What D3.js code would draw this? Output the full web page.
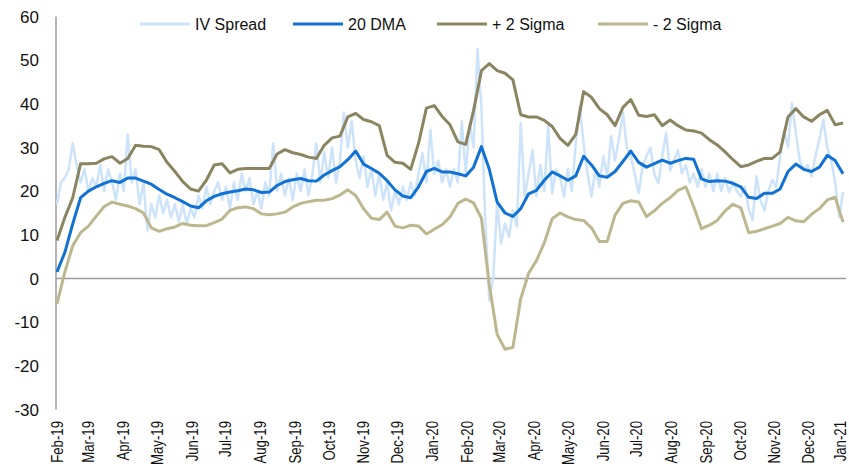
<!DOCTYPE html>
<html>
<head>
<meta charset="utf-8">
<script src="https://cdn.jsdelivr.net/npm/d3@7"></script>
<style>
  body { margin: 0; background: #fff; }
  svg { display: block; }
</style>
</head>
<body>
<div id="container"></div>
<script>
// weekly series (first value is 1 Feb 2019, one value per week)
const startDate = new Date(Date.UTC(2019, 1, 1));
const endDate = new Date(Date.UTC(2021, 0, 1));

const dma20 = [
  1.5, 6, 12.5, 18.5, 20, 21, 21.8, 22.4, 22, 23,
  23, 22.3, 21.6, 20.4, 19.3, 18.5, 17.6, 16.6, 16.2, 17.8,
  18.8, 19.4, 19.8, 20.1, 20.5, 20.3, 19.7, 19.8, 21.3, 22.2,
  22.6, 22.9, 22.4, 22.3, 23.7, 24.7, 25.6, 27.2, 29.2, 26.2,
  25.2, 24.1, 22.4, 20.3, 18.9, 18.5, 21, 24.5, 25.2, 24.4,
  24.4, 24, 23.5, 25.5, 30.2, 25, 17.5, 15, 14.2, 16,
  19.4, 20.2, 22.5, 24.4, 23.5, 22.5, 23.5, 28, 26, 23.5,
  23.2, 24.5, 26.8, 29.2, 26.6, 25.5, 26.3, 27.1, 26.4, 27,
  27.5, 27.3, 22.8, 22.2, 22.4, 22.3, 21.8, 21, 18.6, 18.3,
  19.5, 19.5, 20.5, 24.5, 26.2, 25, 24.5, 25.5, 28.2, 27,
  24
];

const sigmaUp = [
  8.7, 14, 18.5, 26.3, 26.3, 26.4, 27.4, 27.9, 26.4, 27.5,
  30.5, 30.3, 30.2, 29.5, 26.6, 24.5, 22.2, 20.5, 20, 22.5,
  26, 26.3, 24.2, 25, 25.2, 25.2, 25.2, 25.2, 28.5, 29.5,
  28.8, 28.4, 27.8, 27.5, 30.5, 32.2, 32.6, 37, 37.8, 36.4,
  35.9, 35, 28.2, 26.6, 26.4, 25, 31, 39, 39.6, 37.1,
  35.2, 31.3, 30.7, 38.5, 47.6, 49.2, 47.6, 47, 45.5, 37.5,
  37, 37, 36.2, 34.8, 32.1, 30.5, 33, 42.8, 41.5, 38.9,
  37.5, 35, 39.2, 41, 37.4, 37.1, 37.5, 35, 36.3, 35,
  34, 33.8, 33.3, 31.8, 30.6, 29, 27.2, 25.6, 26, 26.8,
  27.5, 27.5, 29, 37, 38.9, 37, 36, 37.5, 38.5, 35.2,
  35.6
];

const sigmaDown = [
  -5.8, 1.5, 7.5, 10.5, 12, 14.3, 16.5, 17.5, 17, 16.6,
  16, 15, 11.6, 10.8, 11.4, 11.8, 12.6, 12.2, 12.1, 12.1,
  12.8, 13.6, 15.6, 16.2, 16.4, 16, 14.8, 14.6, 14.8, 15.2,
  16.4, 17.2, 17.6, 17.9, 17.9, 18.3, 19.1, 20.3, 19, 16,
  13.8, 13.5, 15.2, 12, 11.6, 12.2, 12, 10.2, 11.3, 12.3,
  14.1, 17.2, 18.2, 17.3, 13.8, -1.5, -12.8, -16.2, -15.8, -4.6,
  1.2, 4.1, 8.2, 13.7, 15, 14.1, 13.5, 13.3, 11.6, 8.5,
  8.5, 14.5, 17.2, 17.8, 17.5, 14.2, 15.5, 17.2, 18.5, 20.2,
  21, 16.5, 11.4, 12.2, 13.3, 15.5, 17, 16.2, 10.5, 10.8,
  11.4, 12, 12.6, 14, 13.2, 13, 14.7, 16, 18, 18.6,
  12.9
];

// IV spread, two readings per week
const ivSpread = [
  17, 22, 23, 25, 31, 26, 22, 25, 20, 23,
  21, 26, 20, 25, 22, 18, 24, 20, 33, 22,
  25, 17, 22, 11, 17, 14, 19, 15, 18, 14,
  17, 13, 17, 12.5, 16, 14, 19, 16, 21, 17,
  20, 22, 18, 21, 16, 22, 18, 24, 20, 23,
  17, 20, 16, 22, 19, 31, 20, 24, 19, 23,
  18, 24, 20, 25, 19, 24, 31, 22, 29, 23,
  30, 22, 27, 38, 30, 36, 27, 23, 28, 21,
  25, 19, 24, 18, 22, 15.6, 20, 17, 21, 18,
  22, 19, 24, 28.7, 22, 34, 24, 27, 22, 25,
  21, 25, 22, 36, 24, 35.6, 30, 52.5, 39, 12.7,
  -5, 0.3, 17.2, 8, 12.6, 9.5, 15.6, 11.9, 35.6, 18.8,
  24, 29.4, 18.8, 26, 20, 34.9, 19.5, 25, 23.4, 18.8,
  25, 20, 31, 39.4, 31, 24, 18.8, 25, 21, 28,
  23.4, 32.6, 27, 32, 38, 30, 28, 24, 19.5, 25.7,
  28, 30, 24, 21.8, 28, 33.3, 24.8, 27, 29.4, 24,
  26, 22, 24, 21, 25, 21, 24, 20, 24, 20,
  23, 19.8, 22, 20, 18.8, 21, 16, 13.4, 23.4, 18,
  15.6, 20, 22.6, 21, 28, 34, 30, 40.2, 33.3, 27,
  24.8, 26, 23.4, 28, 32, 36.3, 30, 27.1, 22, 14,
  19.8
];

const yTicks = [-30, -20, -10, 0, 10, 20, 30, 40, 50, 60];
const seriesNames = ["IV Spread", "20 DMA", "+ 2 Sigma", "- 2 Sigma"];
const seriesColors = ["#cce3fa", "#1172d3", "#8a8560", "#bdb78f"];

const weekMs = 7 * 864e5;
const weekly = (vals) => vals.map((v, i) => ({ date: new Date(startDate.getTime() + i * weekMs), value: v }));
const halfWeekly = (vals) => vals.map((v, i) => ({ date: new Date(startDate.getTime() + i * weekMs / 2), value: v }));

const width = 849;
const height = 466;

let viz = d3.select("#container")
  .append("svg")
    .attr("width", width)
    .attr("height", height)
;

let x = d3.scaleUtc()
  .domain([startDate, endDate])
  .range([57, 843]);

let y = d3.scaleLinear()
  .domain([-30, 60])
  .range([409.5, 16.5]);

// y labels
viz.append("g")
  .selectAll("text")
  .data(yTicks)
  .join("text")
    .text(d => d)
    .attr("x", 39)
    .attr("y", d => y(d))
    .attr("dy", "0.36em")
    .attr("text-anchor", "end")
    .attr("font-family", "Liberation Sans, Arial, sans-serif")
    .attr("font-size", 17)
    .attr("fill", "#111")
;

// x labels, one per month (condensed like the original narrow font)
let months = d3.utcMonth.range(startDate, d3.utcDay.offset(endDate, 1));
viz.append("g")
  .selectAll("text")
  .data(months)
  .join("text")
    .text(d => d3.utcFormat("%b-%y")(d))
    .attr("transform", d => `translate(${Math.min(x(d), 840)},421) rotate(-90) scale(0.8,1)`)
    .attr("dy", "0.36em")
    .attr("text-anchor", "end")
    .attr("font-family", "Liberation Sans, Arial, sans-serif")
    .attr("font-size", 16.5)
    .attr("fill", "#111")
;

// zero line and y axis line
viz.append("line")
  .attr("x1", x(startDate) - 1)
  .attr("x2", 846)
  .attr("y1", y(0))
  .attr("y2", y(0))
  .attr("stroke", "#9a9a9a")
  .attr("stroke-width", 1.5)
;

viz.append("line")
  .attr("x1", 56)
  .attr("x2", 56)
  .attr("y1", y(60))
  .attr("y2", y(-30))
  .attr("stroke", "#9a9a9a")
  .attr("stroke-width", 1.5)
;

let line = d3.line()
  .x(d => x(d.date))
  .y(d => y(d.value));

let seriesData = [halfWeekly(ivSpread), weekly(dma20), weekly(sigmaUp), weekly(sigmaDown)];
let strokeWidths = [2.5, 3, 3, 3];

viz.append("g")
  .selectAll("path")
  .data(seriesData)
  .join("path")
    .attr("d", line)
    .attr("fill", "none")
    .attr("stroke", (d, i) => seriesColors[i])
    .attr("stroke-width", (d, i) => strokeWidths[i])
    .attr("stroke-linejoin", "round")
;

// legend
let legendX = [140, 293, 437, 598];
let legend = viz.append("g")
  .selectAll("g")
  .data(seriesNames)
  .join("g")
    .attr("transform", (d, i) => `translate(${legendX[i]},24)`)
;

legend.append("line")
  .attr("x1", 0)
  .attr("x2", 50)
  .attr("stroke", (d, i) => seriesColors[i])
  .attr("stroke-width", 3)
;

legend.append("text")
  .text(d => d)
  .attr("x", 55)
  .attr("dy", "0.36em")
  .attr("font-family", "Liberation Sans, Arial, sans-serif")
  .attr("font-size", 16)
  .attr("fill", "#111")
;
</script>
</body>
</html>
